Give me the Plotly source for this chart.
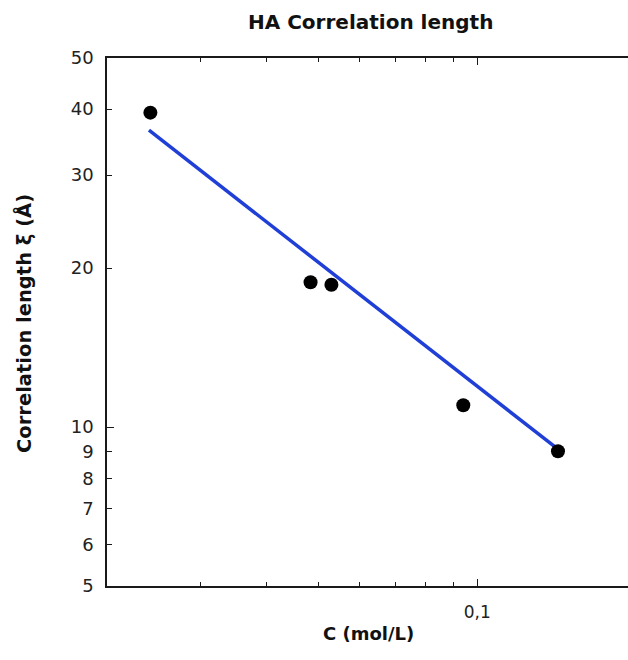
import plotly.graph_objects as go

# Measured correlation lengths of HA solutions
conc_mol_l = [0.0241, 0.0484, 0.0530, 0.0941, 0.1421]
xi_angstrom = [39.4, 18.8, 18.6, 11.0, 9.0]

# Power-law fit, drawn between its two end points
fit_conc = [0.02395, 0.1421]
fit_xi = [36.5, 9.08]

# Axis ticks
y_tickvals = [5, 6, 7, 8, 9, 10, 20, 30, 40, 50]
y_ticktext = ["5", "6", "7", "8", "9", "10", "20", "30", "40", "50"]
x_major_vals = [0.1]
x_major_text = ["0,1"]
x_minor_vals = [0.03, 0.04, 0.05, 0.06, 0.07, 0.08, 0.09]

W, H = 628, 660
ML, MR, MT, MB = 107, 0, 58, 74
PW, PH = W - ML - MR, H - MT - MB

def px(xpix):
    return (xpix - ML) / PW

def py(ypix):
    return (H - MB - ypix) / PH

FONT = "DejaVu Sans"
AXIS_COLOR = "#1a1a1a"

fig = go.Figure()
fig.add_trace(go.Scatter(
    x=fit_conc, y=fit_xi, mode="lines",
    line=dict(color="#1f3fd6", width=3.5),
    showlegend=False, hoverinfo="skip",
))
fig.add_trace(go.Scatter(
    x=conc_mol_l, y=xi_angstrom, mode="markers",
    marker=dict(color="black", size=14),
    showlegend=False,
))

fig.update_xaxes(
    type="log", range=[-1.700, -0.715],
    showgrid=False, zeroline=False,
    showline=True, linecolor=AXIS_COLOR, linewidth=1.5, mirror="ticks",
    ticks="inside", ticklen=7, tickwidth=1, tickcolor=AXIS_COLOR,
    tickmode="array", tickvals=x_major_vals, ticktext=x_major_text,
    ticklabelstandoff=10,
    minor=dict(tickmode="array", tickvals=x_minor_vals, ticks="inside",
               ticklen=4, tickwidth=1, tickcolor=AXIS_COLOR, showgrid=False),
    tickfont=dict(family=FONT, size=17, color="#222"),
)
fig.update_yaxes(
    type="log", range=[0.69897, 1.69897],
    showgrid=False, zeroline=False,
    showline=True, linecolor=AXIS_COLOR, linewidth=1.5, mirror=False,
    ticks="inside", ticklen=5, tickwidth=1, tickcolor=AXIS_COLOR,
    tickmode="array", tickvals=y_tickvals, ticktext=y_ticktext,
    ticklabelstandoff=8,
    minor=dict(tickmode="array", tickvals=[10], ticks="inside",
               ticklen=7, tickwidth=1, tickcolor=AXIS_COLOR, showgrid=False),
    tickfont=dict(family=FONT, size=18, color="#222"),
)

fig.update_layout(
    width=W, height=H,
    margin=dict(l=ML, r=MR, t=MT, b=MB, autoexpand=False),
    paper_bgcolor="white", plot_bgcolor="white",
    annotations=[
        dict(text="<b>HA Correlation length</b>", x=px(370), y=py(22),
             xref="paper", yref="paper", showarrow=False,
             xanchor="center", yanchor="middle",
             font=dict(family=FONT, size=20, color="#111")),
        dict(text="<b>C (mol/L)</b>", x=px(368), y=py(633),
             xref="paper", yref="paper", showarrow=False,
             xanchor="center", yanchor="middle",
             font=dict(family=FONT, size=18, color="#111")),
        dict(text="<b>Correlation length ξ (Å)</b>", x=px(24), y=py(324),
             xref="paper", yref="paper", showarrow=False, textangle=-90,
             xanchor="center", yanchor="middle",
             font=dict(family=FONT, size=19.5, color="#111")),
    ],
)

fig.write_html("out.html")
